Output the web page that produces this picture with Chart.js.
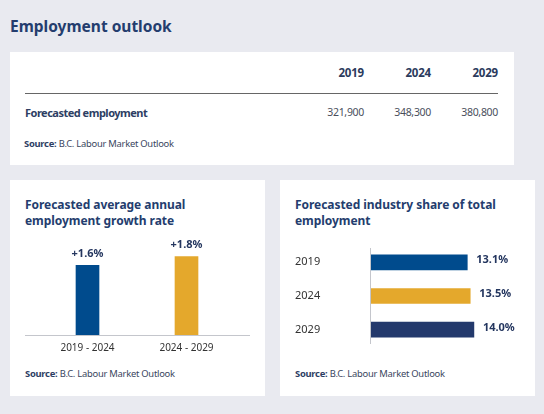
<!DOCTYPE html>
<html>
<head>
<meta charset="utf-8">
<script src="https://cdn.jsdelivr.net/npm/chart.js@4.4.1/dist/chart.umd.min.js"></script>
<style>
  html, body { margin: 0; padding: 0; }
  body {
    width: 544px; height: 414px; background: #e9eaf0; position: relative;
    font-family: "Noto Sans", sans-serif; overflow: hidden;
  }
  .title { position: absolute; left: 10px; top: 15px; font-size: 15.5px; font-weight: 700; color: #243d6e; white-space: nowrap; }
  .card { position: absolute; background: #fff; }
  .abs { position: absolute; white-space: nowrap; }
  .yr { font-size: 11.5px; font-weight: 700; color: #2b3a5c; text-align: right; width: 60px; letter-spacing: -0.2px; }
  .val { font-size: 10.5px; color: #4a4f5c; text-align: right; width: 60px; letter-spacing: -0.3px; }
  .rowlbl { font-size: 11px; font-weight: 700; color: #2d3e63; letter-spacing: -0.5px; }
  .src { font-size: 9.4px; color: #3a4660; letter-spacing: -0.25px; }
  .src b { color: #2d3e63; }
  .ctitle { font-size: 12px; font-weight: 700; color: #243d6e; line-height: 16px; letter-spacing: -0.05px; }
  canvas { position: absolute; }
</style>
</head>
<body>
<div class="title">Employment outlook</div>

<!-- TOP TABLE CARD -->
<div class="card" style="left:10px; top:52px; width:504px; height:113px;"></div>
<div id="tableHead"></div>
<div class="abs" style="left:25px; top:93px; width:473px; border-top:1px solid #666;"></div>
<div class="abs rowlbl" style="left:25px; top:105px;">Forecasted employment</div>
<div class="abs src" style="left:24px; top:136.5px;"><b>Source:</b> B.C. Labour Market Outlook</div>

<!-- LEFT CARD -->
<div class="card" style="left:10px; top:180px; width:255px; height:216px;"></div>
<div class="abs ctitle" style="left:25px; top:196.5px;">Forecasted average annual<br>employment growth rate</div>
<canvas id="growthChart" width="225" height="122" style="left:25px; top:236px;"></canvas>
<div class="abs src" style="left:25px; top:366.5px;"><b>Source:</b> B.C. Labour Market Outlook</div>

<!-- RIGHT CARD -->
<div class="card" style="left:280px; top:180px; width:255px; height:216px;"></div>
<div class="abs ctitle" style="left:295px; top:196.5px;">Forecasted industry share of total<br>employment</div>
<canvas id="shareChart" width="230" height="112" style="left:295px; top:240px;"></canvas>
<div class="abs src" style="left:295px; top:366.5px;"><b>Source:</b> B.C. Labour Market Outlook</div>

<script>
// DATA
const tableYears = ["2019", "2024", "2029"];
const employment = [321900, 348300, 380800];

const growthPeriods = ["2019 - 2024", "2024 - 2029"];
const growthRates = [1.6, 1.8];

const shareYears = ["2019", "2024", "2029"];
const shareValues = [13.1, 13.5, 14.0];

// COLOURS
const BLUE = "#004b8d";
const GOLD = "#e4a82c";
const NAVY = "#23396c";
const LABEL = "#24365f";

Chart.defaults.font.family = "'Noto Sans', sans-serif";

// TABLE
const rightEdges = [364, 431, 498];
const head = document.getElementById("tableHead");
tableYears.forEach((y, i) => {
    const h = document.createElement("div");
    h.className = "abs yr";
    h.style.left = (rightEdges[i] - 60) + "px";
    h.style.top = "64.5px";
    h.textContent = y;
    head.appendChild(h);

    const v = document.createElement("div");
    v.className = "abs val";
    v.style.left = (rightEdges[i] - 60) + "px";
    v.style.top = "105px";
    v.textContent = employment[i].toLocaleString("en-US");
    head.appendChild(v);
});

// VALUE LABEL PLUGIN
const valueLabels = {
    id: "valueLabels",
    afterDatasetsDraw(chart, args, opts) {
        const ctx = chart.ctx;
        const meta = chart.getDatasetMeta(0);
        const data = chart.data.datasets[0].data;
        ctx.save();
        ctx.fillStyle = LABEL;
        ctx.font = `700 ${opts.size}px 'Noto Sans', sans-serif`;
        ctx.textBaseline = "middle";
        meta.data.forEach((bar, i) => {
            const text = opts.format(data[i]);
            if (opts.horizontal) {
                ctx.textAlign = "left";
                ctx.fillText(text, bar.x + 9, bar.y - 2);
            } else {
                ctx.textAlign = "center";
                ctx.fillText(text, bar.x, bar.y - 11.5);
            }
        });
        ctx.restore();
    }
};

// BASELINE ACROSS THE WHOLE CANVAS (LEFT CHART)
const baseline = {
    id: "baseline",
    beforeDatasetsDraw(chart) {
        const ctx = chart.ctx;
        const y = chart.scales.y.getPixelForValue(0);
        ctx.save();
        ctx.strokeStyle = "#c4c6cc";
        ctx.lineWidth = 1;
        ctx.beginPath();
        ctx.moveTo(0, Math.round(y) + 0.5);
        ctx.lineTo(chart.width, Math.round(y) + 0.5);
        ctx.stroke();
        ctx.restore();
    }
};

// SHORT VERTICAL AXIS LINE (RIGHT CHART)
const axisLine = {
    id: "axisLine",
    beforeDatasetsDraw(chart) {
        const ctx = chart.ctx;
        const area = chart.chartArea;
        const x = Math.round(area.left) - 0.5;
        ctx.save();
        ctx.strokeStyle = "#c4c6cc";
        ctx.lineWidth = 1;
        ctx.beginPath();
        ctx.moveTo(x, area.top + 2.5);
        ctx.lineTo(x, area.bottom - 2.5);
        ctx.stroke();
        ctx.restore();
    }
};

// GROWTH CHART
new Chart(document.getElementById("growthChart"), {
    type: "bar",
    data: {
        labels: growthPeriods,
        datasets: [{
            data: growthRates,
            backgroundColor: [BLUE, GOLD],
            barThickness: 23
        }]
    },
    options: {
        responsive: false,
        animation: false,
        layout: { padding: { left: 13, right: 14, top: 12, bottom: 0 } },
        plugins: {
            legend: { display: false },
            tooltip: { enabled: false },
            valueLabels: { size: 11, format: v => "+" + v.toFixed(1) + "%" }
        },
        scales: {
            x: {
                grid: { display: false, drawTicks: false },
                border: { display: false },
                ticks: { color: "#333", font: { size: 10 }, padding: 7 },
                afterFit: s => { s.height = 23; }
            },
            y: { display: false, min: 0, max: 2 }
        }
    },
    plugins: [baseline, valueLabels]
});

// SHARE CHART
new Chart(document.getElementById("shareChart"), {
    type: "bar",
    data: {
        labels: shareYears,
        datasets: [{
            data: shareValues,
            backgroundColor: [BLUE, GOLD, NAVY],
            barThickness: 15
        }]
    },
    options: {
        responsive: false,
        animation: false,
        indexAxis: "y",
        layout: { padding: { left: 0, right: 7, top: 5.5, bottom: 5.5 } },
        plugins: {
            legend: { display: false },
            tooltip: { enabled: false },
            valueLabels: { size: 11, horizontal: true, format: v => v.toFixed(1) + "%" }
        },
        scales: {
            x: { display: false, min: 0, max: 20 },
            y: {
                grid: { display: false },
                border: { display: false },
                ticks: { color: "#333", font: { size: 11 }, crossAlign: "far" },
                afterFit: s => { s.width = 76; s.paddingTop = 0; s.paddingBottom = 0; }
            }
        }
    },
    plugins: [axisLine, valueLabels]
});
</script>
</body>
</html>
